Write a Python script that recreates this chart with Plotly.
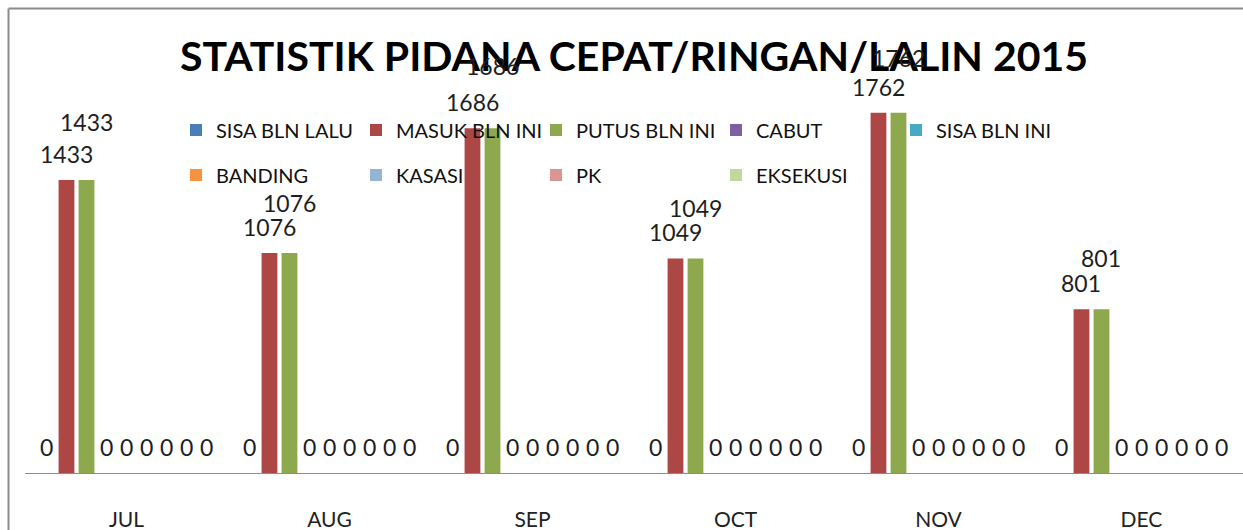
import plotly.graph_objects as go

# ---------------- data ----------------
months = ["JUL", "AUG", "SEP", "OCT", "NOV", "DEC"]
series_names = ["SISA BLN LALU", "MASUK BLN INI", "PUTUS BLN INI", "CABUT",
                "SISA BLN INI", "BANDING", "KASASI", "PK", "EKSEKUSI"]
sisa_bln_lalu = [0, 0, 0, 0, 0, 0]
masuk_bln_ini = [1433, 1076, 1686, 1049, 1762, 801]
putus_bln_ini = [1433, 1076, 1686, 1049, 1762, 801]
cabut = [0, 0, 0, 0, 0, 0]
sisa_bln_ini = [0, 0, 0, 0, 0, 0]
banding = [0, 0, 0, 0, 0, 0]
kasasi = [0, 0, 0, 0, 0, 0]
pk = [0, 0, 0, 0, 0, 0]
eksekusi = [0, 0, 0, 0, 0, 0]
title_text = "STATISTIK PIDANA CEPAT/RINGAN/LALIN 2015"

series_values = [sisa_bln_lalu, masuk_bln_ini, putus_bln_ini, cabut,
                 sisa_bln_ini, banding, kasasi, pk, eksekusi]

# ---------------- style ----------------
colors = ["#4A7EBB", "#AC4745", "#8DA84D", "#7D60A0", "#46AAC5",
          "#F69240", "#95B3D7", "#D99694", "#C3D69B"]
W, H = 1243, 530
ML, MR, MT, MB = 25, 0, 64, 57
BARGAP, GROUPGAP = 0.113, 0.21
YMAX = 2000
FONT = "Lato"
LBL_COLOR = "#1e1e1e"
plot_w = W - ML - MR
plot_h = H - MT - MB
cat_px = plot_w / len(months)
slot_px = cat_px * (1 - BARGAP) / len(series_names)

def py(px):  # pixel from top -> paper y
    return (H - MB - px) / plot_h

def px_x(px):  # pixel from left -> paper x
    return (px - ML) / plot_w

fig = go.Figure()
for i, (name, vals) in enumerate(zip(series_names, series_values)):
    fig.add_trace(go.Bar(
        x=months, y=vals, name=name,
        marker=dict(color=colors[i], line=dict(width=0)),
        legend="legend" if i < 5 else "legend2",
        hoverinfo="x+y+name",
    ))

# data labels
default_lift = 26
green_lift = [58, 50, 62, 50, 55, 51]
annotations = []
nser = len(series_names)
for i, vals in enumerate(series_values):
    for j, v in enumerate(vals):
        lift = green_lift[j] if i == 2 else default_lift
        annotations.append(dict(
            x=months[j], y=v, xref="x", yref="y",
            xshift=(i - (nser - 1) / 2) * slot_px, yshift=lift,
            text=str(v), showarrow=False, xanchor="center", yanchor="middle",
            font=dict(family=FONT, size=23, color=LBL_COLOR),
        ))

shapes = [
    dict(type="line", xref="paper", yref="paper",
         x0=px_x(8.5), x1=px_x(8.5), y0=py(8.5), y1=py(H + 5),
         line=dict(color="#8c8c8c", width=2)),
    dict(type="line", xref="paper", yref="paper",
         x0=px_x(8.5), x1=px_x(W + 5), y0=py(8.5), y1=py(8.5),
         line=dict(color="#8c8c8c", width=2)),
]

legend_common = dict(
    orientation="h", xanchor="left", yanchor="middle",
    font=dict(family=FONT, size=20, color="#111111"),
    entrywidth=135, entrywidthmode="pixels",
    bgcolor="rgba(0,0,0,0)", itemclick=False, itemdoubleclick=False,
    traceorder="normal",
)

fig.update_layout(
    width=W, height=H,
    margin=dict(l=ML, r=MR, t=MT, b=MB, pad=0),
    paper_bgcolor="white", plot_bgcolor="white",
    barmode="group", bargap=BARGAP, bargroupgap=GROUPGAP,
    font=dict(family=FONT, color="#222222"),
    title=dict(text=title_text, x=0.5, xref="paper", xanchor="center",
               y=1 - 57 / H, yref="container", yanchor="middle",
               font=dict(family=FONT, size=41, color="black", weight="bold")),
    xaxis=dict(showline=True, linecolor="#8c8c8c", linewidth=1,
               showgrid=False, zeroline=False, ticks="",
               tickfont=dict(family=FONT, size=21, color="#222222"),
               ticklabelstandoff=28, fixedrange=True),
    yaxis=dict(range=[0, YMAX], visible=False, showgrid=False,
               zeroline=False, fixedrange=True),
    legend=dict(x=px_x(176), y=py(130), **legend_common),
    legend2=dict(x=px_x(176), y=py(175), **legend_common),
    showlegend=True,
    annotations=annotations,
    shapes=shapes,
)

fig.write_html("out.html", config={"displayModeBar": False},
               post_script="document.body.style.margin='0';document.body.style.overflow='hidden';")
